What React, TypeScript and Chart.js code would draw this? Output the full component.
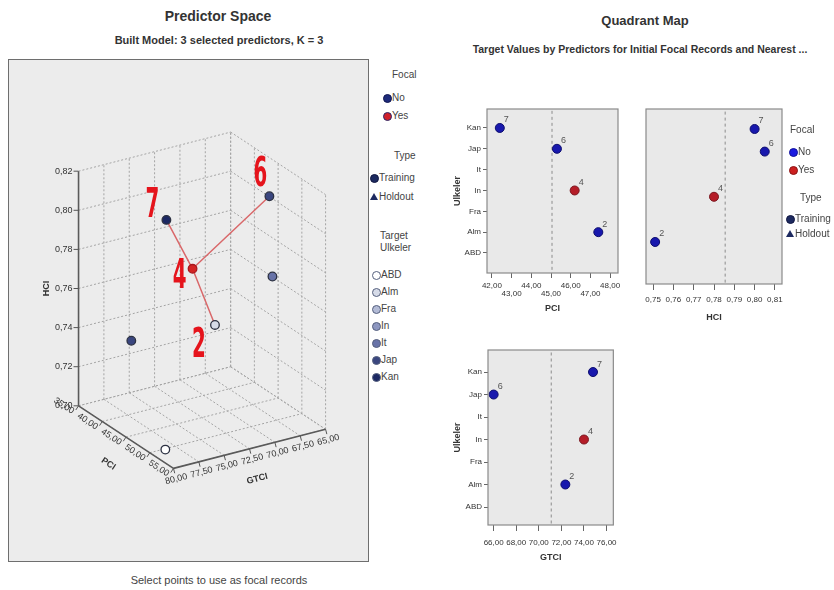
import React, { useEffect, useRef } from 'react';
import { Chart, registerables } from 'chart.js';
Chart.register(...registerables);

const FONT = '"Liberation Sans Narrow", "Liberation Sans", Arial, sans-serif';

// ---------------- data ----------------
const records = [7, 6, 4, 2];
const recordCountry = ['Kan', 'Jap', 'In', 'Alm'];
const recordFocal = ['No', 'No', 'Yes', 'No'];
const recordPCI = [42.4, 45.3, 46.2, 47.4];
const recordHCI = [0.8, 0.805, 0.78, 0.751];
const recordGTCI = [74.8, 66.0, 74.0, 72.35];
const focalRecord = 4;
const neighborRecords = [7, 6, 2];

// other training records shown in the predictor space (unlabelled)
const otherCountry = ['Jap', 'It', 'ABD'];
const otherPCI = [38.0, 50.0, 52.0];
const otherHCI = [0.733, 0.774, 0.704];
const otherGTCI = [76.2, 67.9, 79.4];

const countryCategories = ['ABD', 'Alm', 'Fra', 'In', 'It', 'Jap', 'Kan'];
const focalLevels = ['No', 'Yes'];
const typeLevels = ['Training', 'Holdout'];

const pciTicks3D = [35, 40, 45, 50, 55];
const gtciTicks3D = [80, 77.5, 75, 72.5, 70, 67.5, 65];
const hciTicks3D = [0.7, 0.72, 0.74, 0.76, 0.78, 0.8, 0.82];

const pciTicksQ = [42, 43, 44, 45, 46, 47, 48];
const hciTicksQ = [0.75, 0.76, 0.77, 0.78, 0.79, 0.8, 0.81];
const gtciTicksQ = [66, 68, 70, 72, 74, 76];
const pciRef = 45.05;
const hciRef = 0.7855;
const gtciRef = 71.1;

// ---------------- styles ----------------
const VIEW3D = { originX: 75, originY: 408, pci: [98, 64], gtci: [157, -40], hci: [0, -240] };
const countryFill: Record<string, string> = {
  ABD: '#ffffff', Alm: '#d6dbe8', Fra: '#b3bbd6', In: '#8d97c0', It: '#6873a8', Jap: '#3a467f', Kan: '#1c2863',
};
const calloutOffsets: Record<number, number[]> = { 7: [-14, -15], 6: [-9, -23], 4: [-13, 7], 2: [-16, 20] };

const fmt = (v: number, d = 2) => v.toFixed(d).replace('.', ',');

function PredictorSpace() {
  const ref = useRef<HTMLCanvasElement>(null);
  useEffect(() => {
    const p0 = pciTicks3D[0], p1 = pciTicks3D[pciTicks3D.length - 1];
    const g0 = gtciTicks3D[0], g1 = gtciTicks3D[gtciTicks3D.length - 1];
    const h0 = hciTicks3D[0], h1 = hciTicks3D[hciTicks3D.length - 1];
    const project = (p: number, g: number, h: number) => {
      const u = (p - p0) / (p1 - p0), v = (g - g0) / (g1 - g0), w = (h - h0) / (h1 - h0);
      return {
        x: VIEW3D.originX + u * VIEW3D.pci[0] + v * VIEW3D.gtci[0] + w * VIEW3D.hci[0],
        y: VIEW3D.originY + u * VIEW3D.pci[1] + v * VIEW3D.gtci[1] + w * VIEW3D.hci[1],
      };
    };
    const GAP = { x: NaN, y: NaN };
    const seg = (arr: any[], a: number[], b: number[]) => {
      arr.push(project(a[0], a[1], a[2]), project(b[0], b[1], b[2]), GAP);
    };
    const grid: any[] = [];
    hciTicks3D.forEach((h) => { seg(grid, [p0, g0, h], [p0, g1, h]); seg(grid, [p0, g1, h], [p1, g1, h]); });
    gtciTicks3D.forEach((g) => { seg(grid, [p0, g, h0], [p0, g, h1]); seg(grid, [p0, g, h0], [p1, g, h0]); });
    pciTicks3D.forEach((p) => { seg(grid, [p, g1, h0], [p, g1, h1]); seg(grid, [p, g0, h0], [p, g1, h0]); });
    const axes: any[] = [];
    seg(axes, [p0, g0, h0], [p0, g0, h1]);
    seg(axes, [p0, g0, h0], [p1, g0, h0]);
    seg(axes, [p1, g0, h0], [p1, g1, h0]);

    const pts: any[] = records.map((r, i) => ({
      ...project(recordPCI[i], recordGTCI[i], recordHCI[i]), rec: r, country: recordCountry[i], focal: recordFocal[i],
    }));
    otherCountry.forEach((c, i) => {
      pts.push({ ...project(otherPCI[i], otherGTCI[i], otherHCI[i]), rec: null, country: c, focal: 'No' });
    });
    const fi = records.indexOf(focalRecord);
    const links: any[] = [];
    neighborRecords.forEach((n) => {
      const j = records.indexOf(n);
      seg(links, [recordPCI[fi], recordGTCI[fi], recordHCI[fi]], [recordPCI[j], recordGTCI[j], recordHCI[j]]);
    });

    const textPlugin = {
      id: 'text3d',
      afterDatasetsDraw(chart: any) {
        const { ctx } = chart;
        const sx = chart.scales.x, sy = chart.scales.y;
        const px = (pt: { x: number; y: number }) => ({ x: sx.getPixelForValue(pt.x), y: sy.getPixelForValue(pt.y) });
        ctx.save();
        ctx.strokeStyle = '#555';
        ctx.lineWidth = 1;
        ctx.fillStyle = '#333';
        ctx.font = `9px ${FONT}`;
        // HCI ticks
        hciTicks3D.forEach((h) => {
          const q = px(project(p0, g0, h));
          ctx.beginPath(); ctx.moveTo(q.x - 5, q.y); ctx.lineTo(q.x, q.y); ctx.stroke();
          ctx.textAlign = 'right'; ctx.textBaseline = 'middle';
          ctx.fillText(fmt(h), q.x - 6, q.y);
        });
        // PCI ticks
        const A = px(project(p0, g0, h0)), B = px(project(p1, g0, h0)), C = px(project(p1, g1, h0));
        let dx = B.x - A.x, dy = B.y - A.y, len = Math.hypot(dx, dy);
        let al = [dx / len, dy / len], pp = [-al[1], al[0]];
        const angP = Math.atan2(dy, dx);
        pciTicks3D.forEach((p) => {
          const q = px(project(p, g0, h0));
          ctx.beginPath(); ctx.moveTo(q.x, q.y); ctx.lineTo(q.x + pp[0] * 5, q.y + pp[1] * 5); ctx.stroke();
          ctx.save();
          ctx.translate(q.x + pp[0] * 8, q.y + pp[1] * 8);
          ctx.rotate(angP);
          ctx.textAlign = 'right'; ctx.textBaseline = 'middle';
          ctx.fillText(fmt(p), -1, 0);
          ctx.restore();
        });
        // PCI title
        ctx.save();
        ctx.font = `bold 9px ${FONT}`;
        ctx.translate((A.x + B.x) / 2 + pp[0] * 32, (A.y + B.y) / 2 + pp[1] * 32);
        ctx.rotate(angP);
        ctx.textAlign = 'center'; ctx.textBaseline = 'middle';
        ctx.fillText('PCI', 0, 0);
        ctx.restore();
        // GTCI ticks
        dx = C.x - B.x; dy = C.y - B.y; len = Math.hypot(dx, dy);
        al = [dx / len, dy / len]; const pg = [-al[1], al[0]];
        const angG = Math.atan2(dy, dx);
        gtciTicks3D.forEach((g) => {
          const q = px(project(p1, g, h0));
          ctx.beginPath(); ctx.moveTo(q.x, q.y); ctx.lineTo(q.x + pg[0] * 5, q.y + pg[1] * 5); ctx.stroke();
          ctx.save();
          ctx.translate(q.x + pg[0] * 11, q.y + pg[1] * 11);
          ctx.rotate(angG);
          ctx.textAlign = 'center'; ctx.textBaseline = 'middle';
          ctx.fillText(fmt(g), 0, 0);
          ctx.restore();
        });
        ctx.save();
        ctx.font = `bold 9px ${FONT}`;
        ctx.translate((B.x + C.x) / 2 + pg[0] * 31, (B.y + C.y) / 2 + pg[1] * 31);
        ctx.rotate(angG);
        ctx.textAlign = 'center'; ctx.textBaseline = 'middle';
        ctx.fillText('GTCI', 0, 0);
        ctx.restore();
        // HCI title
        const H0 = px(project(p0, g0, h0)), H1 = px(project(p0, g0, h1));
        ctx.save();
        ctx.font = `bold 9px ${FONT}`;
        ctx.translate(H0.x - 32, (H0.y + H1.y) / 2);
        ctx.rotate(-Math.PI / 2);
        ctx.textAlign = 'center'; ctx.textBaseline = 'middle';
        ctx.fillText('HCI', 0, 0);
        ctx.restore();
        // callout numbers
        ctx.fillStyle = '#e5141c';
        ctx.font = `bold 40px "DejaVu Sans Condensed", "DejaVu Sans", sans-serif`;
        ctx.textAlign = 'center'; ctx.textBaseline = 'middle';
        records.forEach((r, i) => {
          const q = px(project(recordPCI[i], recordGTCI[i], recordHCI[i]));
          const off = calloutOffsets[r] || [0, 0];
          ctx.save();
          ctx.translate(q.x + off[0], q.y + off[1]);
          ctx.scale(0.55, 1);
          ctx.fillText(String(r), 0, 2);
          ctx.restore();
        });
        ctx.restore();
      },
    };

    const chart = new Chart(ref.current as HTMLCanvasElement, {
      type: 'scatter',
      data: {
        datasets: [
          {
            data: pts,
            backgroundColor: pts.map((p) => (p.focal === 'Yes' ? '#d42424' : countryFill[p.country])),
            borderColor: pts.map((p) => (p.focal === 'Yes' ? '#a8161c' : '#2c3142')),
            borderWidth: 1.3,
            pointRadius: 4.3,
            order: 0,
          } as any,
          { data: links, showLine: true, borderColor: '#d9686a', borderWidth: 1.5, pointRadius: 0, spanGaps: false, order: 1 } as any,
          { data: axes, showLine: true, borderColor: '#5a5a5a', borderWidth: 1.6, pointRadius: 0, spanGaps: false, order: 2 } as any,
          { data: grid, showLine: true, borderColor: '#a4a4a4', borderDash: [2, 2], borderWidth: 1, pointRadius: 0, spanGaps: false, order: 3 } as any,
        ],
      },
      options: {
        animation: false,
        responsive: false,
        events: [],
        layout: { padding: 0 },
        plugins: { legend: { display: false }, tooltip: { enabled: false } },
        scales: {
          x: { type: 'linear', min: 9, max: 368, display: false },
          y: { type: 'linear', min: 60, max: 561, reverse: true, display: false },
        },
      },
      plugins: [textPlugin],
    });
    return () => chart.destroy();
  }, []);
  return <canvas ref={ref} width={359} height={501} style={{ position: 'absolute', left: 9, top: 60 }} />;
}

const boxPlugin = {
  id: 'plotBox',
  beforeDraw(chart: any) {
    const { ctx, chartArea: a } = chart;
    ctx.save();
    ctx.fillStyle = '#e9e9e9';
    ctx.fillRect(a.left, a.top, a.right - a.left, a.bottom - a.top);
    ctx.restore();
  },
  afterDraw(chart: any) {
    const { ctx, chartArea: a } = chart;
    ctx.save();
    ctx.strokeStyle = '#8a8a8a';
    ctx.lineWidth = 1.2;
    ctx.strokeRect(a.left, a.top, a.right - a.left, a.bottom - a.top);
    ctx.restore();
  },
};

const recLabelPlugin = {
  id: 'recLabels',
  afterDatasetsDraw(chart: any) {
    const { ctx } = chart;
    const meta = chart.getDatasetMeta(0);
    ctx.save();
    ctx.fillStyle = '#555';
    ctx.font = `9px ${FONT}`;
    ctx.textAlign = 'left';
    ctx.textBaseline = 'middle';
    meta.data.forEach((el: any, i: number) => {
      const d: any = chart.data.datasets[0].data[i];
      ctx.fillText(String(d.rec), el.x + 4, el.y - 8);
    });
    ctx.restore();
  },
};

type QP = {
  left: number; top: number; width: number; height: number;
  values: number[]; xMin: number; xMax: number; xTicks: number[]; stagger: boolean; refValue: number;
  title: string; showY: boolean; yMin: number; yMax: number; yWidth: number; xHeight: number;
  pad: { left: number; top: number; right: number; bottom: number };
  tickLen: number; tickPad: number; titlePadBottom: number; yTitlePad: number;
};

function QuadrantPanel(props: QP) {
  const ref = useRef<HTMLCanvasElement>(null);
  useEffect(() => {
    const p = props;
    const yScale: any = p.showY
      ? {
          type: 'linear', min: p.yMin, max: p.yMax,
          afterBuildTicks: (s: any) => { s.ticks = countryCategories.map((_, i) => ({ value: i })); },
          afterFit: (s: any) => { s.width = p.yWidth; },
          ticks: { autoSkip: false, padding: 2, color: '#333', font: { family: FONT, size: 8 }, callback: (v: any) => countryCategories[v] },
          grid: { drawOnChartArea: false, drawTicks: true, tickLength: 4, color: '#666' },
          border: { display: false },
          title: { display: true, text: 'Ulkeler', color: '#333', font: { family: FONT, size: 9, weight: 'bold' }, padding: { top: p.yTitlePad, bottom: 0 } },
        }
      : { type: 'linear', min: p.yMin, max: p.yMax, display: false };
    const chart = new Chart(ref.current as HTMLCanvasElement, {
      type: 'scatter',
      data: {
        datasets: [
          {
            data: records.map((r, i) => ({ x: p.values[i], y: countryCategories.indexOf(recordCountry[i]), rec: r })),
            backgroundColor: recordFocal.map((f) => (f === 'Yes' ? '#b51d28' : '#1818ad')),
            borderColor: recordFocal.map((f) => (f === 'Yes' ? '#7c1820' : '#0e0e6e')),
            borderWidth: 1,
            pointRadius: 4.5,
            order: 0,
          } as any,
          {
            data: [{ x: p.refValue, y: p.yMin - 1 }, { x: p.refValue, y: p.yMax + 1 }],
            showLine: true, borderColor: '#8c8c8c', borderDash: [3, 3], borderWidth: 1, pointRadius: 0, order: 1,
          } as any,
        ],
      },
      options: {
        animation: false,
        responsive: false,
        events: [],
        layout: { padding: p.pad },
        plugins: { legend: { display: false }, tooltip: { enabled: false } },
        scales: {
          x: {
            type: 'linear', min: p.xMin, max: p.xMax,
            afterBuildTicks: (s: any) => { s.ticks = p.xTicks.map((v) => ({ value: v })); },
            afterFit: (s: any) => { s.height = p.xHeight; },
            ticks: {
              autoSkip: false, maxRotation: 0, minRotation: 0, padding: p.tickPad, color: '#333',
              font: { family: FONT, size: 8, lineHeight: 0.95 },
              callback: (v: any, i: number) => (p.stagger && i % 2 === 1 ? ['', fmt(v)] : fmt(v)),
            },
            grid: { drawOnChartArea: false, drawTicks: true, tickLength: p.tickLen, color: '#666' },
            border: { display: false },
            title: { display: true, text: p.title, color: '#333', font: { family: FONT, size: 9, weight: 'bold' }, padding: { top: 0, bottom: p.titlePadBottom } },
          } as any,
          y: yScale,
        },
      },
      plugins: [boxPlugin, recLabelPlugin],
    });
    return () => chart.destroy();
  }, []);
  return <canvas ref={ref} width={props.width} height={props.height} style={{ position: 'absolute', left: props.left, top: props.top }} />;
}

function Txt(props: { text: string; left: number; cy: number; size?: number; bold?: boolean; color?: string }) {
  return (
    <div style={{ position: 'absolute', left: props.left, top: props.cy - 7, height: 14, lineHeight: '14px', fontSize: props.size || 10, fontWeight: props.bold ? 'bold' : 'normal', color: props.color || '#444', whiteSpace: 'nowrap', fontFamily: FONT }}>
      {props.text}
    </div>
  );
}

function CText(props: { text: string; cx: number; cy: number; size: number; bold?: boolean; color?: string }) {
  return (
    <div style={{ position: 'absolute', left: props.cx - 250, width: 500, textAlign: 'center', top: props.cy - 8, height: 16, lineHeight: '16px', fontSize: props.size, fontWeight: props.bold ? 'bold' : 'normal', color: props.color || '#333', whiteSpace: 'nowrap', fontFamily: FONT }}>
      {props.text}
    </div>
  );
}

function Dot(props: { cx: number; cy: number; r: number; fill: string; stroke: string }) {
  const { cx, cy, r } = props;
  return <div style={{ position: 'absolute', left: cx - r, top: cy - r, width: 2 * r, height: 2 * r, borderRadius: '50%', background: props.fill, border: `1.3px solid ${props.stroke}`, boxSizing: 'border-box' }} />;
}

function Tri(props: { cx: number; cy: number; r: number; fill: string }) {
  const { cx, cy, r } = props;
  return <div style={{ position: 'absolute', left: cx - r, top: cy - r, width: 0, height: 0, borderLeft: `${r}px solid transparent`, borderRight: `${r}px solid transparent`, borderBottom: `${Math.round(r * 1.8)}px solid ${props.fill}` }} />;
}

export default function App() {
  const countryRows = [275, 292, 309, 326, 343, 360, 377];
  return (
    <div style={{ position: 'absolute', left: 0, top: 0, width: 834, height: 590, background: '#ffffff', overflow: 'hidden', fontFamily: FONT }}>
      <CText text="Predictor Space" cx={218} cy={16} size={14} bold />
      <CText text="Built Model: 3 selected predictors, K = 3" cx={219} cy={40} size={11} bold />
      <div style={{ position: 'absolute', left: 8, top: 59, width: 361, height: 503, boxSizing: 'border-box', border: '1.5px solid #6e6e6e', background: '#ececec' }} />
      <PredictorSpace />
      <CText text="Select points to use as focal records" cx={219} cy={580} size={11} color="#444" />

      {/* left legend */}
      <Txt text="Focal" left={392} cy={75} />
      <Dot cx={387} cy={98} r={4.5} fill="#1d2a7a" stroke="#101650" />
      <Txt text={focalLevels[0]} left={392} cy={98} />
      <Dot cx={387} cy={116} r={4.5} fill="#d0202a" stroke="#2a2a6a" />
      <Txt text={focalLevels[1]} left={392} cy={116} />
      <Txt text="Type" left={394} cy={156} />
      <Dot cx={374} cy={178} r={4.5} fill="#1d2a60" stroke="#101640" />
      <Txt text={typeLevels[0]} left={379} cy={178} />
      <Tri cx={374} cy={197} r={4} fill="#1d2a60" />
      <Txt text={typeLevels[1]} left={379} cy={197} />
      <Txt text="Target" left={380} cy={236} />
      <Txt text="Ulkeler" left={380} cy={248} />
      {countryCategories.map((c, i) => (
        <React.Fragment key={c}>
          <Dot cx={376} cy={countryRows[i]} r={4.5} fill={countryFill[c]} stroke="#55607e" />
          <Txt text={c} left={381} cy={countryRows[i]} />
        </React.Fragment>
      ))}

      <CText text="Quadrant Map" cx={645} cy={21} size={13} bold />
      <CText text="Target Values by Predictors for Initial Focal Records and Nearest ..." cx={640} cy={49} size={10.5} bold />

      <QuadrantPanel left={440} top={100} width={185} height={220} values={recordPCI} xMin={41.75} xMax={48.4} xTicks={pciTicksQ} stagger
        refValue={pciRef} title="PCI" showY yMin={-0.96} yMax={6.91} yWidth={47} xHeight={47}
        pad={{ left: 0, top: 9, right: 7, bottom: 0 }} tickLen={5} tickPad={4} titlePadBottom={5.6} yTitlePad={12} />
      <QuadrantPanel left={620} top={100} width={170} height={230} values={recordHCI} xMin={0.7465} xMax={0.8135} xTicks={hciTicksQ} stagger={false}
        refValue={hciRef} title="HCI" showY={false} yMin={-0.86} yMax={6.885} yWidth={0} xHeight={46}
        pad={{ left: 26, top: 9, right: 8, bottom: 0 }} tickLen={6} tickPad={6} titlePadBottom={6.6} yTitlePad={0} />
      <QuadrantPanel left={440} top={340} width={185} height={240} values={recordGTCI} xMin={65.5} xMax={76.6} xTicks={gtciTicksQ} stagger={false}
        refValue={gtciRef} title="GTCI" showY yMin={-0.8} yMax={6.98} yWidth={48} xHeight={55}
        pad={{ left: 0, top: 10, right: 8, bottom: 0 }} tickLen={6} tickPad={8} titlePadBottom={16.6} yTitlePad={12.6} />

      {/* quadrant legend */}
      <Txt text="Focal" left={790} cy={130} />
      <Dot cx={793} cy={152} r={4.5} fill="#1a1ae0" stroke="#10109a" />
      <Txt text={focalLevels[0]} left={798} cy={152} />
      <Dot cx={793} cy={170} r={4.5} fill="#cc1f1f" stroke="#8a1515" />
      <Txt text={focalLevels[1]} left={798} cy={170} />
      <Txt text="Type" left={800} cy={198} />
      <Dot cx={790} cy={219} r={4.5} fill="#1d2a60" stroke="#101640" />
      <Txt text={typeLevels[0]} left={795} cy={219} />
      <Tri cx={790} cy={234} r={4} fill="#1d2a60" />
      <Txt text={typeLevels[1]} left={795} cy={234} />
    </div>
  );
}
